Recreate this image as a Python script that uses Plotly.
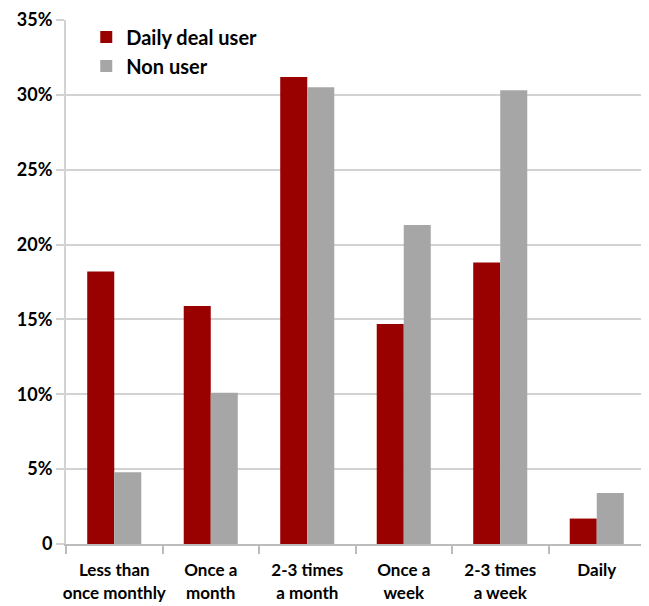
import plotly.graph_objects as go

categories = ["Less than<br>once monthly", "Once a<br>month", "2-3 times<br>a month",
              "Once a<br>week", "2-3 times<br>a week", "Daily"]
daily_deal_user = [18.2, 15.9, 31.2, 14.7, 18.8, 1.7]
non_user = [4.8, 10.1, 30.5, 21.3, 30.3, 3.4]
tick_vals = [0, 5, 10, 15, 20, 25, 30, 35]
tick_text = ["0", "5%", "10%", "15%", "20%", "25%", "30%", "35%"]

FONT = "Lato"
GRID = "#d2d2d2"
AXIS = "#bcbcbc"

fig = go.Figure()
fig.add_trace(go.Bar(name="Daily deal user", x=categories, y=daily_deal_user,
                     marker=dict(color="#990000", line=dict(width=0))))
fig.add_trace(go.Bar(name="Non user", x=categories, y=non_user,
                     marker=dict(color="#a6a6a6", line=dict(width=0))))

fig.update_layout(
    width=641, height=598,
    margin=dict(l=58, r=4, t=12, b=62),
    paper_bgcolor="white", plot_bgcolor="white",
    barmode="group", bargap=0.44, bargroupgap=0,
    font=dict(family=FONT, size=17, color="black"),
    showlegend=True,
    legend=dict(x=0.035, y=1.005, xanchor="left", yanchor="top",
                bgcolor="rgba(0,0,0,0)",
                font=dict(family=FONT, size=20, color="black", weight="bold")),
)
fig.update_xaxes(
    showline=True, linecolor=AXIS, linewidth=2,
    ticks="outside", tickson="boundaries", ticklen=8, tickcolor=AXIS, tickwidth=2,
    tickangle=0, automargin=False, ticklabelstandoff=10,
    tickfont=dict(family=FONT, size=17, color="black", weight="bold"),
    showgrid=False,
)
fig.update_yaxes(
    range=[0, 35], tickvals=tick_vals, ticktext=tick_text,
    showline=True, linecolor=GRID, linewidth=2,
    ticks="outside", ticklen=8, tickcolor=GRID, tickwidth=2,
    showgrid=True, gridcolor=GRID, gridwidth=2,
    zeroline=False, automargin=False,
    tickfont=dict(family=FONT, size=18, color="black", weight="bold"),
)
fig.write_html("out.html")
